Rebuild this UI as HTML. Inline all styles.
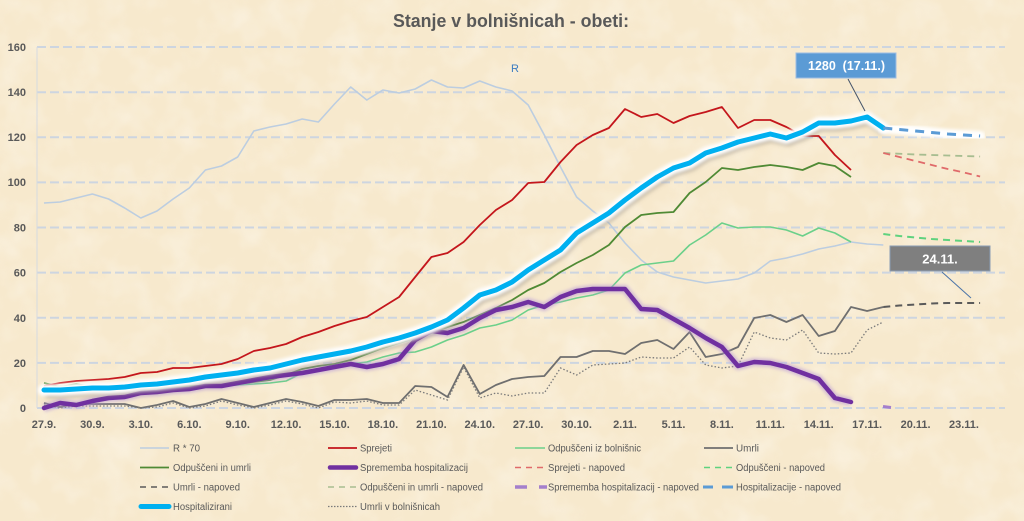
<!DOCTYPE html>
<html><head><meta charset="utf-8"><style>
html,body{margin:0;padding:0;background:#f7eacf;}
svg{display:block;}
text{font-family:"Liberation Sans",Arial,sans-serif;}
</style></head><body>
<svg width="1024" height="521" viewBox="0 0 1024 521" xmlns="http://www.w3.org/2000/svg">
<defs>
<filter id="paper" x="0" y="0" width="100%" height="100%">
<feTurbulence type="fractalNoise" baseFrequency="0.03" numOctaves="3" seed="7"/>
<feColorMatrix type="matrix" values="0 0 0 0 1  0 0 0 0 0.985  0 0 0 0 0.95  1.6 0 0 0 -0.68"/>
</filter>
<filter id="blur1" x="-5%" y="-30%" width="110%" height="160%"><feGaussianBlur stdDeviation="1.6"/></filter>
<filter id="blur2" x="-5%" y="-30%" width="110%" height="160%"><feGaussianBlur stdDeviation="2.4"/></filter>
</defs>
<rect x="0" y="0" width="1024" height="521" fill="#f7e9cd"/>
<rect x="0" y="0" width="1024" height="521" filter="url(#paper)" opacity="0.45"/>

<!-- title -->
<text x="393" y="27" font-size="18" font-weight="bold" fill="#595959" textLength="236" lengthAdjust="spacingAndGlyphs">Stanje v bolnišnicah - obeti:</text>

<!-- gridlines -->
<g stroke="#cdd5e0" stroke-width="2" stroke-dasharray="9 4">
<line x1="37" y1="47" x2="1005" y2="47"/>
<line x1="37" y1="92.2" x2="1005" y2="92.2"/>
<line x1="37" y1="137.3" x2="1005" y2="137.3"/>
<line x1="37" y1="182.4" x2="1005" y2="182.4"/>
<line x1="37" y1="227.5" x2="1005" y2="227.5"/>
<line x1="37" y1="272.6" x2="1005" y2="272.6"/>
<line x1="37" y1="317.8" x2="1005" y2="317.8"/>
<line x1="37" y1="362.9" x2="1005" y2="362.9"/>
<line x1="37" y1="408" x2="1005" y2="408"/>
</g>
<line x1="37" y1="47" x2="37" y2="408" stroke="#d6dae0" stroke-width="1"/>

<!-- y labels -->
<g font-size="11" font-weight="bold" fill="#595959" text-anchor="end">
<text x="26" y="51">160</text>
<text x="26" y="96">140</text>
<text x="26" y="141">120</text>
<text x="26" y="186">100</text>
<text x="26" y="231.5">80</text>
<text x="26" y="276.5">60</text>
<text x="26" y="322">40</text>
<text x="26" y="367">20</text>
<text x="26" y="412">0</text>
</g>

<!-- x labels -->
<g font-size="11" font-weight="bold" fill="#595959" text-anchor="middle">
<text x="44" y="428">27.9.</text>
<text x="92.4" y="428">30.9.</text>
<text x="140.8" y="428">3.10.</text>
<text x="189.3" y="428">6.10.</text>
<text x="237.7" y="428">9.10.</text>
<text x="286.1" y="428">12.10.</text>
<text x="334.5" y="428">15.10.</text>
<text x="382.9" y="428">18.10.</text>
<text x="431.4" y="428">21.10.</text>
<text x="479.8" y="428">24.10.</text>
<text x="528.2" y="428">27.10.</text>
<text x="576.6" y="428">30.10.</text>
<text x="625" y="428">2.11.</text>
<text x="673.5" y="428">5.11.</text>
<text x="721.9" y="428">8.11.</text>
<text x="770.3" y="428">11.11.</text>
<text x="818.7" y="428">14.11.</text>
<text x="867.1" y="428">17.11.</text>
<text x="915.6" y="428">20.11.</text>
<text x="964" y="428">23.11.</text>
</g>

<!-- R * 70 -->
<polyline fill="none" stroke="#bccde0" stroke-width="1.6" stroke-linejoin="round" points="44,203 60.1,202 76.3,198 92.4,194 108.6,199 124.7,208 140.8,218 157,211 173.1,199 189.3,188 205.4,170 221.5,166 237.7,157 253.8,131 270,127 286.1,124 302.2,119 318.4,122 334.5,104 350.7,87 366.8,100 382.9,90 399.1,93 415.2,89 431.4,80 447.5,87 463.6,88 479.8,81 495.9,87 512.1,91 528.2,105 544.3,135 560.5,167 576.6,197 592.8,211 608.9,223 625,243 641.2,260 657.3,272 673.5,277 689.6,280 705.7,283 721.9,281 738,279 754.2,273 770.3,261 786.4,258 802.6,254 818.7,249 834.9,246 851,242 867.1,244 883.3,245"/>
<text x="511" y="72" font-size="11" fill="#3b7cc0">R</text>

<!-- Odpuščeni iz bolnišnic -->
<polyline fill="none" stroke="#6bd08a" stroke-width="1.6" stroke-linejoin="round" points="44,388 60.1,386 76.3,387 92.4,388 108.6,389 124.7,389 140.8,389 157,389 173.1,388 189.3,388 205.4,387 221.5,386 237.7,385 253.8,384 270,383 286.1,381 302.2,373 318.4,370 334.5,367 350.7,364 366.8,362 382.9,357 399.1,353 415.2,352 431.4,347 447.5,340 463.6,335 479.8,328 495.9,325 512.1,320 528.2,310 544.3,305 560.5,302 576.6,298 592.8,295 608.9,290 625,273 641.2,265 657.3,263 673.5,261 689.6,245 705.7,235 721.9,223 738,228 754.2,227 770.3,227 786.4,230 802.6,236 818.7,228 834.9,233 851,242"/>

<!-- Umrli -->
<polyline fill="none" stroke="#6f6f6f" stroke-width="1.8" stroke-linejoin="round" points="44,403 60.1,407 76.3,404 92.4,404 108.6,404 124.7,404 140.8,408 157,405 173.1,401 189.3,407 205.4,404 221.5,399 237.7,403 253.8,407 270,403 286.1,399 302.2,402 318.4,406 334.5,400 350.7,400 366.8,399 382.9,403 399.1,403 415.2,386 431.4,387 447.5,397 463.6,365 479.8,394 495.9,385 512.1,379 528.2,377 544.3,376 560.5,357 576.6,357 592.8,351 608.9,351 625,354 641.2,343 657.3,340 673.5,349 689.6,332 705.7,357 721.9,354 738,347 754.2,318 770.3,315 786.4,322 802.6,315 818.7,336 834.9,331 851,307 867.1,311 883.3,307"/>

<!-- Umrli v bolnišnicah (dotted) -->
<polyline fill="none" stroke="#7a7a7a" stroke-width="1.3" stroke-dasharray="1.5 2" points="44,405 60.1,408 76.3,406 92.4,406 108.6,406 124.7,406 140.8,408 157,407 173.1,403 189.3,408 205.4,406 221.5,401 237.7,405 253.8,408 270,405 286.1,401 302.2,404 318.4,408 334.5,402 350.7,403 366.8,401 382.9,405 399.1,405 415.2,390 431.4,395 447.5,400 463.6,367 479.8,398 495.9,393 512.1,396 528.2,393 544.3,393 560.5,368 576.6,375 592.8,365 608.9,364 625,363 641.2,357 657.3,358 673.5,358 689.6,347 705.7,365 721.9,368 738,366 754.2,332 770.3,338 786.4,340 802.6,330 818.7,353 834.9,354 851,353 867.1,330 883.3,322"/>

<!-- Odpuščeni in umrli -->
<polyline fill="none" stroke="#4f8a34" stroke-width="1.8" stroke-linejoin="round" points="44,383 60.1,387 76.3,384 92.4,387 108.6,389 124.7,389 140.8,389 157,388 173.1,387 189.3,386 205.4,386 221.5,385 237.7,384 253.8,382 270,380 286.1,375 302.2,369 318.4,366 334.5,364 350.7,360 366.8,354 382.9,348 399.1,343 415.2,338 431.4,333 447.5,327 463.6,322 479.8,315 495.9,308 512.1,300 528.2,290 544.3,283 560.5,272 576.6,263 592.8,255 608.9,245 625,227 641.2,215 657.3,213 673.5,212 689.6,193 705.7,182 721.9,168 738,170 754.2,167 770.3,165 786.4,167 802.6,170 818.7,163 834.9,166 851,177"/>

<!-- forecasts -->
<polyline fill="none" stroke="#a7bd90" stroke-width="1.8" stroke-dasharray="7 5" points="883.3,153 915.6,154.5 947.8,155.5 980.1,156.5"/>
<polyline fill="none" stroke="#e06a6a" stroke-width="1.8" stroke-dasharray="7 5" points="883.3,153 899.4,157 915.6,161 931.7,165 947.8,169 964,172.5 980.1,176.5"/>
<polyline fill="none" stroke="#5fd27e" stroke-width="2" stroke-dasharray="7 5" points="883.3,234 899.4,236 915.6,237.5 931.7,239 947.8,240 964,241 980.1,242"/>
<polyline fill="none" stroke="#5a5a5a" stroke-width="2" stroke-dasharray="7 5" points="883.3,307 899.4,305.5 915.6,304.5 931.7,303.5 947.8,303 964,303 980.1,303"/>
<line x1="883" y1="406.5" x2="891" y2="407.5" stroke="#a47fcc" stroke-width="3"/>

<!-- Sprememba hospitalizacij -->
<polyline fill="none" stroke="#b89ad6" stroke-opacity="0.6" stroke-width="8" stroke-linejoin="round" filter="url(#blur1)" points="44,408 60.1,403 76.3,405 92.4,401 108.6,398 124.7,397 140.8,393 157,392 173.1,390 189.3,389 205.4,386 221.5,386 237.7,383 253.8,380 270,377 286.1,375 302.2,373 318.4,370 334.5,367 350.7,364 366.8,367 382.9,364 399.1,359 415.2,340 431.4,331 447.5,333 463.6,328 479.8,318 495.9,310 512.1,307 528.2,302 544.3,307 560.5,297 576.6,291 592.8,289 608.9,289 625,289 641.2,309 657.3,310 673.5,319 689.6,328 705.7,338 721.9,347 738,366 754.2,362 770.3,363 786.4,367 802.6,373 818.7,379 834.9,398 851,402"/>
<polyline fill="none" stroke="#7030a0" stroke-width="4.5" stroke-linejoin="round" stroke-linecap="round" points="44,408 60.1,403 76.3,405 92.4,401 108.6,398 124.7,397 140.8,393 157,392 173.1,390 189.3,389 205.4,386 221.5,386 237.7,383 253.8,380 270,377 286.1,375 302.2,373 318.4,370 334.5,367 350.7,364 366.8,367 382.9,364 399.1,359 415.2,340 431.4,331 447.5,333 463.6,328 479.8,318 495.9,310 512.1,307 528.2,302 544.3,307 560.5,297 576.6,291 592.8,289 608.9,289 625,289 641.2,309 657.3,310 673.5,319 689.6,328 705.7,338 721.9,347 738,366 754.2,362 770.3,363 786.4,367 802.6,373 818.7,379 834.9,398 851,402"/>

<!-- Sprejeti -->
<polyline fill="none" stroke="#c4161c" stroke-width="1.8" stroke-linejoin="round" points="44,386 60.1,383 76.3,381 92.4,380 108.6,379 124.7,377 140.8,373 157,372 173.1,368 189.3,368 205.4,366 221.5,364 237.7,359 253.8,351 270,348 286.1,344 302.2,337 318.4,332 334.5,326 350.7,321 366.8,317 382.9,307 399.1,297 415.2,277 431.4,257 447.5,253 463.6,242 479.8,225 495.9,210 512.1,200 528.2,183 544.3,182 560.5,162 576.6,145 592.8,135 608.9,128 625,109 641.2,117 657.3,114 673.5,123 689.6,116 705.7,112 721.9,107 738,128 754.2,120 770.3,120 786.4,127 802.6,136 818.7,136 834.9,155 851,170"/>

<!-- Hospitalizirani: shadow + glow + line -->
<g transform="translate(1.5,3)">
<polyline fill="none" stroke="#7a7060" stroke-opacity="0.55" stroke-width="9" stroke-linejoin="round" filter="url(#blur2)" points="44,390 60.1,390 76.3,389 92.4,388 108.6,388 124.7,387 140.8,385 157,384 173.1,382 189.3,380 205.4,377 221.5,375 237.7,373 253.8,370 270,368 286.1,364 302.2,360 318.4,357 334.5,354 350.7,351 366.8,347 382.9,342 399.1,338 415.2,333 431.4,327 447.5,320 463.6,308 479.8,295 495.9,290 512.1,282 528.2,270 544.3,260 560.5,250 576.6,233 592.8,223 608.9,213 625,200 641.2,188 657.3,177 673.5,168 689.6,163 705.7,153 721.9,148 738,142 754.2,138 770.3,134 786.4,138 802.6,132 818.7,123 834.9,123 851,121 867.1,117 883.3,128"/>
</g>
<polyline fill="none" stroke="#ffffff" stroke-width="12" stroke-linejoin="round" stroke-linecap="round" filter="url(#blur1)" points="44,390 60.1,390 76.3,389 92.4,388 108.6,388 124.7,387 140.8,385 157,384 173.1,382 189.3,380 205.4,377 221.5,375 237.7,373 253.8,370 270,368 286.1,364 302.2,360 318.4,357 334.5,354 350.7,351 366.8,347 382.9,342 399.1,338 415.2,333 431.4,327 447.5,320 463.6,308 479.8,295 495.9,290 512.1,282 528.2,270 544.3,260 560.5,250 576.6,233 592.8,223 608.9,213 625,200 641.2,188 657.3,177 673.5,168 689.6,163 705.7,153 721.9,148 738,142 754.2,138 770.3,134 786.4,138 802.6,132 818.7,123 834.9,123 851,121 867.1,117 883.3,128"/>
<polyline fill="none" stroke="#ffffff" stroke-width="10" stroke-linecap="round" filter="url(#blur1)" points="883.3,128 899.4,129.5 915.6,131 931.7,132.5 947.8,134 964,135 980.1,136"/>
<polyline fill="none" stroke="#00b0f0" stroke-width="5" stroke-linejoin="round" stroke-linecap="round" points="44,390 60.1,390 76.3,389 92.4,388 108.6,388 124.7,387 140.8,385 157,384 173.1,382 189.3,380 205.4,377 221.5,375 237.7,373 253.8,370 270,368 286.1,364 302.2,360 318.4,357 334.5,354 350.7,351 366.8,347 382.9,342 399.1,338 415.2,333 431.4,327 447.5,320 463.6,308 479.8,295 495.9,290 512.1,282 528.2,270 544.3,260 560.5,250 576.6,233 592.8,223 608.9,213 625,200 641.2,188 657.3,177 673.5,168 689.6,163 705.7,153 721.9,148 738,142 754.2,138 770.3,134 786.4,138 802.6,132 818.7,123 834.9,123 851,121 867.1,117 883.3,128"/>
<polyline fill="none" stroke="#5b9bd5" stroke-width="3" stroke-dasharray="9 7" points="883.3,128 899.4,129.5 915.6,131 931.7,132.5 947.8,134 964,135 980.1,136"/>

<!-- callouts -->
<line x1="848" y1="79" x2="865" y2="111" stroke="#44546a" stroke-width="1"/>
<rect x="796" y="53" width="100" height="25" fill="#5b9bd5" stroke="#9dbde3" stroke-width="1"/>
<text x="808" y="70" font-size="12.5" font-weight="bold" fill="#ffffff" style="white-space:pre" textLength="77" lengthAdjust="spacingAndGlyphs">1280  (17.11.)</text>

<line x1="942" y1="272" x2="971" y2="298" stroke="#4a73a8" stroke-width="1"/>
<rect x="890" y="246" width="100" height="25" fill="#7f7f7f" stroke="#8a9cb4" stroke-width="1"/>
<text x="940" y="263.5" font-size="13" font-weight="bold" fill="#ffffff" text-anchor="middle">24.11.</text>

<!-- legend -->
<g font-size="10" fill="#595959">
<line x1="140" y1="448" x2="169" y2="448" stroke="#bccde0" stroke-width="1.6"/>
<text x="173" y="451.5" textLength="27" lengthAdjust="spacingAndGlyphs">R * 70</text>
<line x1="328" y1="448" x2="357" y2="448" stroke="#c4161c" stroke-width="1.8"/>
<text x="360" y="451.5" textLength="32" lengthAdjust="spacingAndGlyphs">Sprejeti</text>
<line x1="515" y1="448" x2="545" y2="448" stroke="#6bd08a" stroke-width="1.6"/>
<text x="548" y="451.5" textLength="93" lengthAdjust="spacingAndGlyphs">Odpuščeni iz bolnišnic</text>
<line x1="704" y1="448" x2="733" y2="448" stroke="#6f6f6f" stroke-width="1.8"/>
<text x="736" y="451.5" textLength="23" lengthAdjust="spacingAndGlyphs">Umrli</text>

<line x1="140" y1="467.5" x2="169" y2="467.5" stroke="#4f8a34" stroke-width="1.8"/>
<text x="173" y="471" textLength="78" lengthAdjust="spacingAndGlyphs">Odpuščeni in umrli</text>
<line x1="330" y1="467.5" x2="356" y2="467.5" stroke="#7030a0" stroke-width="4.5" stroke-linecap="round"/>
<text x="360" y="471" textLength="108" lengthAdjust="spacingAndGlyphs">Sprememba hospitalizacij</text>
<line x1="515" y1="467.5" x2="547" y2="467.5" stroke="#e06a6a" stroke-width="1.6" stroke-dasharray="6 5"/>
<text x="548" y="471" textLength="77" lengthAdjust="spacingAndGlyphs">Sprejeti - napoved</text>
<line x1="704" y1="467.5" x2="734" y2="467.5" stroke="#5fd27e" stroke-width="1.6" stroke-dasharray="6 5"/>
<text x="736" y="471" textLength="89" lengthAdjust="spacingAndGlyphs">Odpuščeni - napoved</text>

<line x1="140" y1="487" x2="171" y2="487" stroke="#5a5a5a" stroke-width="1.6" stroke-dasharray="6 5"/>
<text x="173" y="490.5" textLength="67" lengthAdjust="spacingAndGlyphs">Umrli - napoved</text>
<line x1="328" y1="487" x2="359" y2="487" stroke="#a7bd90" stroke-width="1.6" stroke-dasharray="6 5"/>
<text x="360" y="490.5" textLength="123" lengthAdjust="spacingAndGlyphs">Odpuščeni in umrli - napoved</text>
<line x1="515" y1="487" x2="527" y2="487" stroke="#a47fcc" stroke-width="3.5"/>
<line x1="539" y1="487" x2="547" y2="487" stroke="#a47fcc" stroke-width="3.5"/>
<text x="548" y="490.5" textLength="151" lengthAdjust="spacingAndGlyphs">Sprememba hospitalizacij - napoved</text>
<line x1="703" y1="487" x2="713" y2="487" stroke="#5b9bd5" stroke-width="3"/>
<line x1="722" y1="487" x2="733" y2="487" stroke="#5b9bd5" stroke-width="3"/>
<text x="736" y="490.5" textLength="105" lengthAdjust="spacingAndGlyphs">Hospitalizacije - napoved</text>

<line x1="141" y1="506.5" x2="169" y2="506.5" stroke="#00b0f0" stroke-width="5" stroke-linecap="round"/>
<text x="173" y="510" textLength="59" lengthAdjust="spacingAndGlyphs">Hospitalizirani</text>
<line x1="328" y1="506.5" x2="357" y2="506.5" stroke="#7a7a7a" stroke-width="1.2" stroke-dasharray="1.5 1.5"/>
<text x="360" y="510" textLength="80" lengthAdjust="spacingAndGlyphs">Umrli v bolnišnicah</text>
</g>
</svg>
</body></html>
